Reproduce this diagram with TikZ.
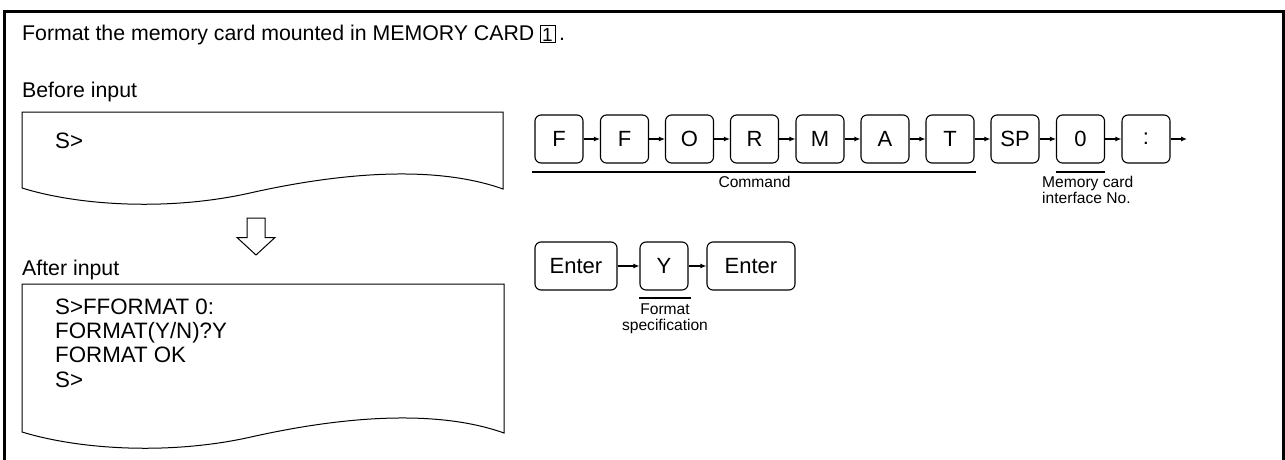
\documentclass[tikz,border=0pt]{standalone}
\usepackage{fontspec}
\setmainfont{Liberation Sans}
\usetikzlibrary{arrows.meta}
\begin{document}
\begin{tikzpicture}[x=1pt,y=-1pt,
 lbl/.style={font=\fontsize{21.3}{24}\selectfont, inner sep=0pt},
 ptxt/.style={font=\fontsize{22.3}{24}\selectfont, inner sep=0pt},
 small/.style={font=\fontsize{15.6}{17}\selectfont, inner sep=0pt},
 key/.style={draw, rounded corners=6pt, line width=1.1pt, minimum height=48pt, inner sep=0pt, font=\fontsize{22}{24}\selectfont},
 link/.style={line width=1.1pt, -{Latex[length=6pt,width=5pt]}},
 paper/.style={draw, line width=1pt},
 ul/.style={line width=2pt},
 frame/.style={line width=3pt}]
\useasboundingbox (0,0) rectangle (1285,460);
% outer frame
\draw[frame] (4.5,475) -- (4.5,11.5) -- (1283.5,11.5) -- (1283.5,475);
% title
\node[lbl, anchor=base west] (title) at (22,41) {Format the memory card mounted in MEMORY CARD};
\node[draw, line width=1pt, minimum width=15pt, minimum height=17pt, inner sep=0pt, font=\fontsize{19}{20}\selectfont] (one) at (547.5,34.5) {1};
\node[lbl, anchor=base west] (dot) at (559,41) {.};
% before input
\node[lbl, anchor=base west] (before) at (22,97.5) {Before input};
\draw[paper] (22,188) -- (22,112) -- (503,112) -- (503,189)
  .. controls (430,163) and (330,175) .. (250,193)
  .. controls (170,211) and (80,206) .. (22,188) -- cycle;
\node[ptxt, anchor=base west] (s0) at (55,148.5) {S>};
% hollow arrow
\draw[line width=1pt] (247,218) -- (265,218) -- (265,237.5) -- (275,237.5) -- (256,255) -- (237,237.5) -- (247,237.5) -- cycle;
% after input
\node[lbl, anchor=base west] (after) at (22,275.5) {After input};
\draw[paper] (22,432) -- (22,284) -- (504,284) -- (504,433)
  .. controls (431,407) and (331,419) .. (251,437)
  .. controls (171,455) and (81,450) .. (22,432) -- cycle;
\node[ptxt, anchor=base west] (a1) at (55,314.5) {S>FFORMAT 0:};
\node[ptxt, anchor=base west] (a2) at (55,338.5) {FORMAT(Y/N)?Y};
\node[ptxt, anchor=base west] (a3) at (55,362.5) {FORMAT OK};
\node[ptxt, anchor=base west] (a4) at (55,387.5) {S>};
% key row 1
\node[key, minimum width=48pt] (k1) at (559,139) {F};
\node[key, minimum width=48pt] (k2) at (624.5,139) {F};
\node[key, minimum width=48pt] (k3) at (689.5,139) {O};
\node[key, minimum width=48pt] (k4) at (754.5,139) {R};
\node[key, minimum width=48pt] (k5) at (820,139) {M};
\node[key, minimum width=48pt] (k6) at (885,139) {A};
\node[key, minimum width=48pt] (k7) at (950,139) {T};
\node[key, minimum width=48pt] (k8) at (1015,139) {SP};
\node[key, minimum width=48pt] (k9) at (1080.5,139) {0};
\node[key, minimum width=48pt] (k10) at (1146,139) {:};
\coordinate (kend) at (1187,139);
\draw[link] (k1.east) -- (k2.west);
\draw[link] (k2.east) -- (k3.west);
\draw[link] (k3.east) -- (k4.west);
\draw[link] (k4.east) -- (k5.west);
\draw[link] (k5.east) -- (k6.west);
\draw[link] (k6.east) -- (k7.west);
\draw[link] (k7.east) -- (k8.west);
\draw[link] (k8.east) -- (k9.west);
\draw[link] (k9.east) -- (k10.west);
\draw[link] (k10.east) -- (kend);
\draw[ul] ([shift={(-2pt,-8pt)}]k1.south west) -- ([shift={(1pt,-8pt)}]k7.south east);
\node[small, anchor=base] (cmd) at (754.5,187.5) {Command};
\draw[ul] ([yshift=-8pt]k9.south west) -- ([yshift=-8pt]k9.south east);
\node[small, anchor=base west] (mem1) at (1042,187.5) {Memory card};
\node[small, anchor=base west] (mem2) at (1042,203.5) {interface No.};
% key row 2
\node[key, minimum width=82pt] (e1) at (576,266) {Enter};
\node[key, minimum width=48pt] (y1) at (664,266) {Y};
\node[key, minimum width=88pt] (e2) at (751,266) {Enter};
\draw[link] (e1.east) -- (y1.west);
\draw[link] (y1.east) -- (e2.west);
\draw[ul] ([yshift=-7pt]y1.south west) -- ([shift={(2pt,-7pt)}]y1.south east);
\node[small, anchor=base] (fmt1) at (665,314.5) {Format};
\node[small, anchor=base] (fmt2) at (665,330) {specification};
\end{tikzpicture}
\end{document}
